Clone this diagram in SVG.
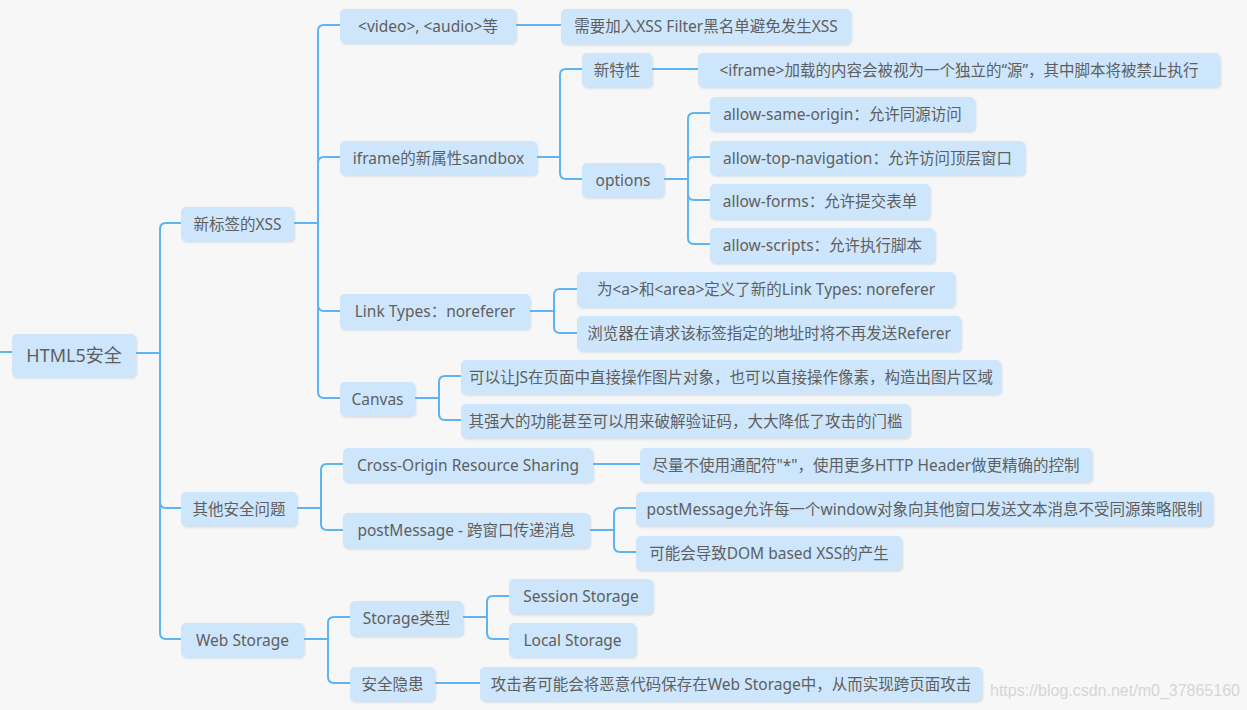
<svg xmlns="http://www.w3.org/2000/svg" width="1247" height="710" viewBox="0 0 1247 710">
<defs>
<filter id="sh" x="-5%" y="-20%" width="110%" height="150%">
<feDropShadow dx="1" dy="1.5" stdDeviation="1" flood-color="#8aa6c0" flood-opacity="0.35"/>
</filter>
<style>
.n rect{fill:#cde6fb;filter:url(#sh)}
.n text{font-family:"Noto Sans","Noto Sans CJK SC",sans-serif;font-size:15.5px;fill:#5f5f5f;text-anchor:middle}
#root text{font-size:18px}
#connectors path{fill:none;stroke:#5db4f4;stroke-width:2}
.wm{font-family:"Liberation Sans",Arial,sans-serif;font-size:16px;fill:#d6d6d6}
</style>
</defs>
<rect width="1247" height="710" fill="#f7f7f7"/>
<g id="connectors">
<path d="M0 352 H12"/>
<path d="M136 353 H160 V229 Q160 223 166 223 H181"/>
<path d="M136 353 H160 V502 Q160 508 166 508 H181"/>
<path d="M136 353 H160 V633 Q160 639 166 639 H181"/>
<path d="M294 223 H318 V31 Q318 25 324 25 H340"/>
<path d="M294 223 H318 V163 Q318 157 324 157 H340"/>
<path d="M294 223 H318 V305 Q318 311 324 311 H340"/>
<path d="M294 223 H318 V392 Q318 398 324 398 H340"/>
<path d="M516 25 H561"/>
<path d="M537 157 H560 V75 Q560 69 566 69 H582"/>
<path d="M537 157 H560 V173 Q560 179 566 179 H582"/>
<path d="M652 69 H698"/>
<path d="M664 179 H688 V119 Q688 113 694 113 H710"/>
<path d="M664 179 H688 V163 Q688 157 694 157 H710"/>
<path d="M664 179 H688 V194 Q688 200 694 200 H710"/>
<path d="M664 179 H688 V238 Q688 244 694 244 H710"/>
<path d="M530 311 H554 V295 Q554 289 560 289 H577"/>
<path d="M530 311 H554 V327 Q554 333 560 333 H577"/>
<path d="M415 398 H439 V382 Q439 376 445 376 H461"/>
<path d="M415 398 H439 V414 Q439 420 445 420 H461"/>
<path d="M297 508 H321 V470 Q321 464 327 464 H343"/>
<path d="M297 508 H321 V524 Q321 530 327 530 H343"/>
<path d="M593 464 H640"/>
<path d="M590 530 H614 V514 Q614 508 620 508 H636"/>
<path d="M590 530 H614 V546 Q614 552 620 552 H636"/>
<path d="M304 639 H328 V623 Q328 617 334 617 H350"/>
<path d="M304 639 H328 V677 Q328 683 334 683 H350"/>
<path d="M463 617 H487 V602 Q487 596 493 596 H509"/>
<path d="M463 617 H487 V633 Q487 639 493 639 H509"/>
<path d="M435 683 H480"/>
</g>
<g id="root" class="n"><rect x="12" y="334" width="124" height="43" rx="5"/><text x="74" y="362">HTML5安全</text></g>
<g id="n1" class="n"><rect x="181" y="207" width="113" height="34" rx="5"/><text x="237.5" y="229.5">新标签的XSS</text></g>
<g id="n2" class="n"><rect x="181" y="492" width="116" height="34" rx="5"/><text x="239" y="514.5">其他安全问题</text></g>
<g id="n3" class="n"><rect x="181" y="623" width="123" height="34" rx="5"/><text x="242.5" y="645.5">Web Storage</text></g>
<g id="n11" class="n"><rect x="340" y="9" width="176" height="34" rx="5"/><text x="428" y="31.5">&lt;video&gt;, &lt;audio&gt;等</text></g>
<g id="n12" class="n"><rect x="340" y="141" width="197" height="34" rx="5"/><text x="438.5" y="163.5">iframe的新属性sandbox</text></g>
<g id="n13" class="n"><rect x="340" y="294" width="190" height="35" rx="5"/><text x="435" y="317">Link Types：noreferer</text></g>
<g id="n14" class="n"><rect x="340" y="382" width="75" height="34" rx="5"/><text x="377.5" y="404.5">Canvas</text></g>
<g id="n111" class="n"><rect x="561" y="9" width="290" height="35" rx="5"/><text x="706" y="32">需要加入XSS Filter黑名单避免发生XSS</text></g>
<g id="n121" class="n"><rect x="582" y="53" width="70" height="34" rx="5"/><text x="617" y="75.5">新特性</text></g>
<g id="n122" class="n"><rect x="582" y="163" width="82" height="34" rx="5"/><text x="623" y="185.5">options</text></g>
<g id="n1211" class="n"><rect x="698" y="53" width="522" height="34" rx="5"/><text x="959" y="75.5">&lt;iframe&gt;加载的内容会被视为一个独立的“源”，其中脚本将被禁止执行</text></g>
<g id="n1221" class="n"><rect x="710" y="97" width="265" height="34" rx="5"/><text x="842.5" y="119.5">allow-same-origin：允许同源访问</text></g>
<g id="n1222" class="n"><rect x="710" y="141" width="315" height="34" rx="5"/><text x="867.5" y="163.5">allow-top-navigation：允许访问顶层窗口</text></g>
<g id="n1223" class="n"><rect x="710" y="184" width="220" height="35" rx="5"/><text x="820" y="207">allow-forms：允许提交表单</text></g>
<g id="n1224" class="n"><rect x="710" y="228" width="225" height="35" rx="5"/><text x="822.5" y="251">allow-scripts：允许执行脚本</text></g>
<g id="n131" class="n"><rect x="577" y="272" width="378" height="35" rx="5"/><text x="766" y="295">为&lt;a&gt;和&lt;area&gt;定义了新的Link Types: noreferer</text></g>
<g id="n132" class="n"><rect x="577" y="316" width="384" height="35" rx="5"/><text x="769" y="339">浏览器在请求该标签指定的地址时将不再发送Referer</text></g>
<g id="n141" class="n"><rect x="461" y="360" width="540" height="34" rx="5"/><text x="731" y="382.5">可以让JS在页面中直接操作图片对象，也可以直接操作像素，构造出图片区域</text></g>
<g id="n142" class="n"><rect x="461" y="404" width="449" height="34" rx="5"/><text x="685.5" y="426.5">其强大的功能甚至可以用来破解验证码，大大降低了攻击的门槛</text></g>
<g id="n21" class="n"><rect x="343" y="448" width="250" height="34" rx="5"/><text x="468" y="470.5">Cross-Origin Resource Sharing</text></g>
<g id="n22" class="n"><rect x="343" y="513" width="247" height="35" rx="5"/><text x="466.5" y="536">postMessage - 跨窗口传递消息</text></g>
<g id="n211" class="n"><rect x="640" y="448" width="452" height="34" rx="5"/><text x="866" y="470.5">尽量不使用通配符"*"，使用更多HTTP Header做更精确的控制</text></g>
<g id="n221" class="n"><rect x="636" y="492" width="577" height="34" rx="5"/><text x="924.5" y="514.5">postMessage允许每一个window对象向其他窗口发送文本消息不受同源策略限制</text></g>
<g id="n222" class="n"><rect x="636" y="536" width="266" height="34" rx="5"/><text x="769" y="558.5">可能会导致DOM based XSS的产生</text></g>
<g id="n31" class="n"><rect x="350" y="601" width="113" height="35" rx="5"/><text x="406.5" y="624">Storage类型</text></g>
<g id="n32" class="n"><rect x="350" y="667" width="85" height="34" rx="5"/><text x="392.5" y="689.5">安全隐患</text></g>
<g id="n311" class="n"><rect x="509" y="579" width="144" height="35" rx="5"/><text x="581" y="602">Session Storage</text></g>
<g id="n312" class="n"><rect x="509" y="623" width="127" height="34" rx="5"/><text x="572.5" y="645.5">Local Storage</text></g>
<g id="n321" class="n"><rect x="480" y="667" width="502" height="34" rx="5"/><text x="731" y="689.5">攻击者可能会将恶意代码保存在Web Storage中，从而实现跨页面攻击</text></g>
<text class="wm" x="990" y="696">https://blog.csdn.net/m0_37865160</text>
</svg>
